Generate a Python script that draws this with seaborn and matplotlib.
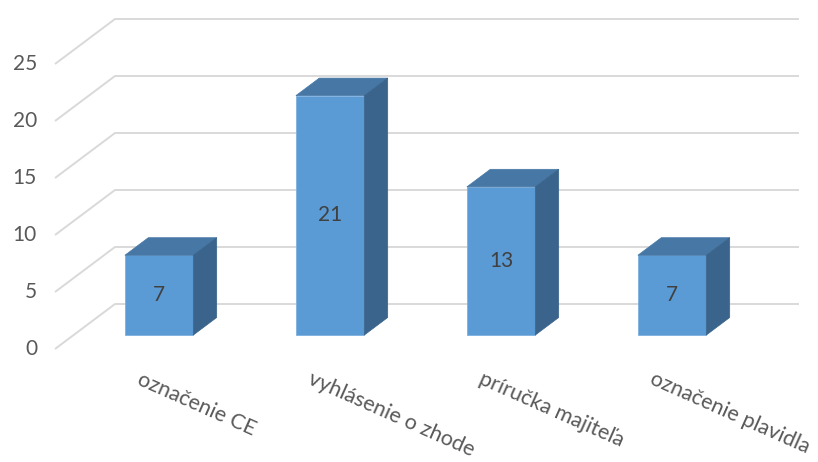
import numpy as np
import pandas as pd
import matplotlib
matplotlib.use("Agg")
import matplotlib.pyplot as plt
import seaborn as sns
from matplotlib.patches import Polygon

categories = ["označenie CE", "vyhlásenie o zhode", "príručka majiteľa", "označenie plavidla"]
values = [7, 21, 13, 7]
y_ticks = [0, 5, 10, 15, 20, 25]

sns.set_theme(style="white")
plt.rcParams['font.family'] = ['Lato', 'DejaVu Sans']

W, H = 818, 462
fig = plt.figure(figsize=(W / 100, H / 100), dpi=100)
ax = fig.add_axes([55 / W, (H - 349) / H, 744 / W, 330 / H])

DX = 60 / 171      # depth offset in category units
DY = 45 / 11.4     # depth offset in value units
d0 = 0.31          # depth of bar front face
dd = 0.39          # bar depth

front_c = "#5B9BD5"
top_c = "#4677A5"
side_c = "#3A648B"
grid_c = "#D9D9D9"

# walls / gridlines
for v in y_ticks:
    ax.plot([-0.5, -0.5 + DX, 3.5 + DX], [v, v + DY, v + DY], color=grid_c,
            lw=1.4, zorder=1, clip_on=False, solid_capstyle="butt")

df = pd.DataFrame({"cat": categories, "val": values})
sns.barplot(data=df, x="cat", y="val", order=categories, width=0.40,
            color=front_c, saturation=1, ax=ax, edgecolor="#7FB0E0",
            linewidth=0.6, zorder=3)

for p, v in zip(ax.patches, values):
    x0 = p.get_x() + d0 * DX
    y0 = d0 * DY
    w = p.get_width()
    h = p.get_height()
    p.set_x(x0)
    p.set_y(y0)
    p.set_clip_on(False)
    top = y0 + h
    ax.add_patch(Polygon([(x0, top), (x0 + w, top), (x0 + w + dd * DX, top + dd * DY),
                          (x0 + dd * DX, top + dd * DY)], closed=True,
                         facecolor=top_c, edgecolor=top_c, lw=0.5, zorder=3, clip_on=False))
    ax.add_patch(Polygon([(x0 + w, y0), (x0 + w, top), (x0 + w + dd * DX, top + dd * DY),
                          (x0 + w + dd * DX, y0 + dd * DY)], closed=True,
                         facecolor=side_c, edgecolor=side_c, lw=0.5, zorder=3, clip_on=False))
    ax.text(x0 + w / 2, y0 + h / 2, str(v), ha="center", va="center",
            fontsize=15, color="#404040", zorder=5)

for v in y_ticks:
    ax.text(-0.5 - 18 / 171, v, str(v), ha="right", va="center",
            fontsize=15, color="#595959")

for i, c in enumerate(categories):
    ax.text(i + 0.01, -1.75, c, ha="left", va="top", rotation=-24,
            rotation_mode="anchor", fontsize=15.5, color="#595959")

ax.set_xlim(-0.5, 3.5 + DX)
ax.set_ylim(0, 25 + DY)
ax.axis("off")

fig.savefig("out.png", dpi=100)
